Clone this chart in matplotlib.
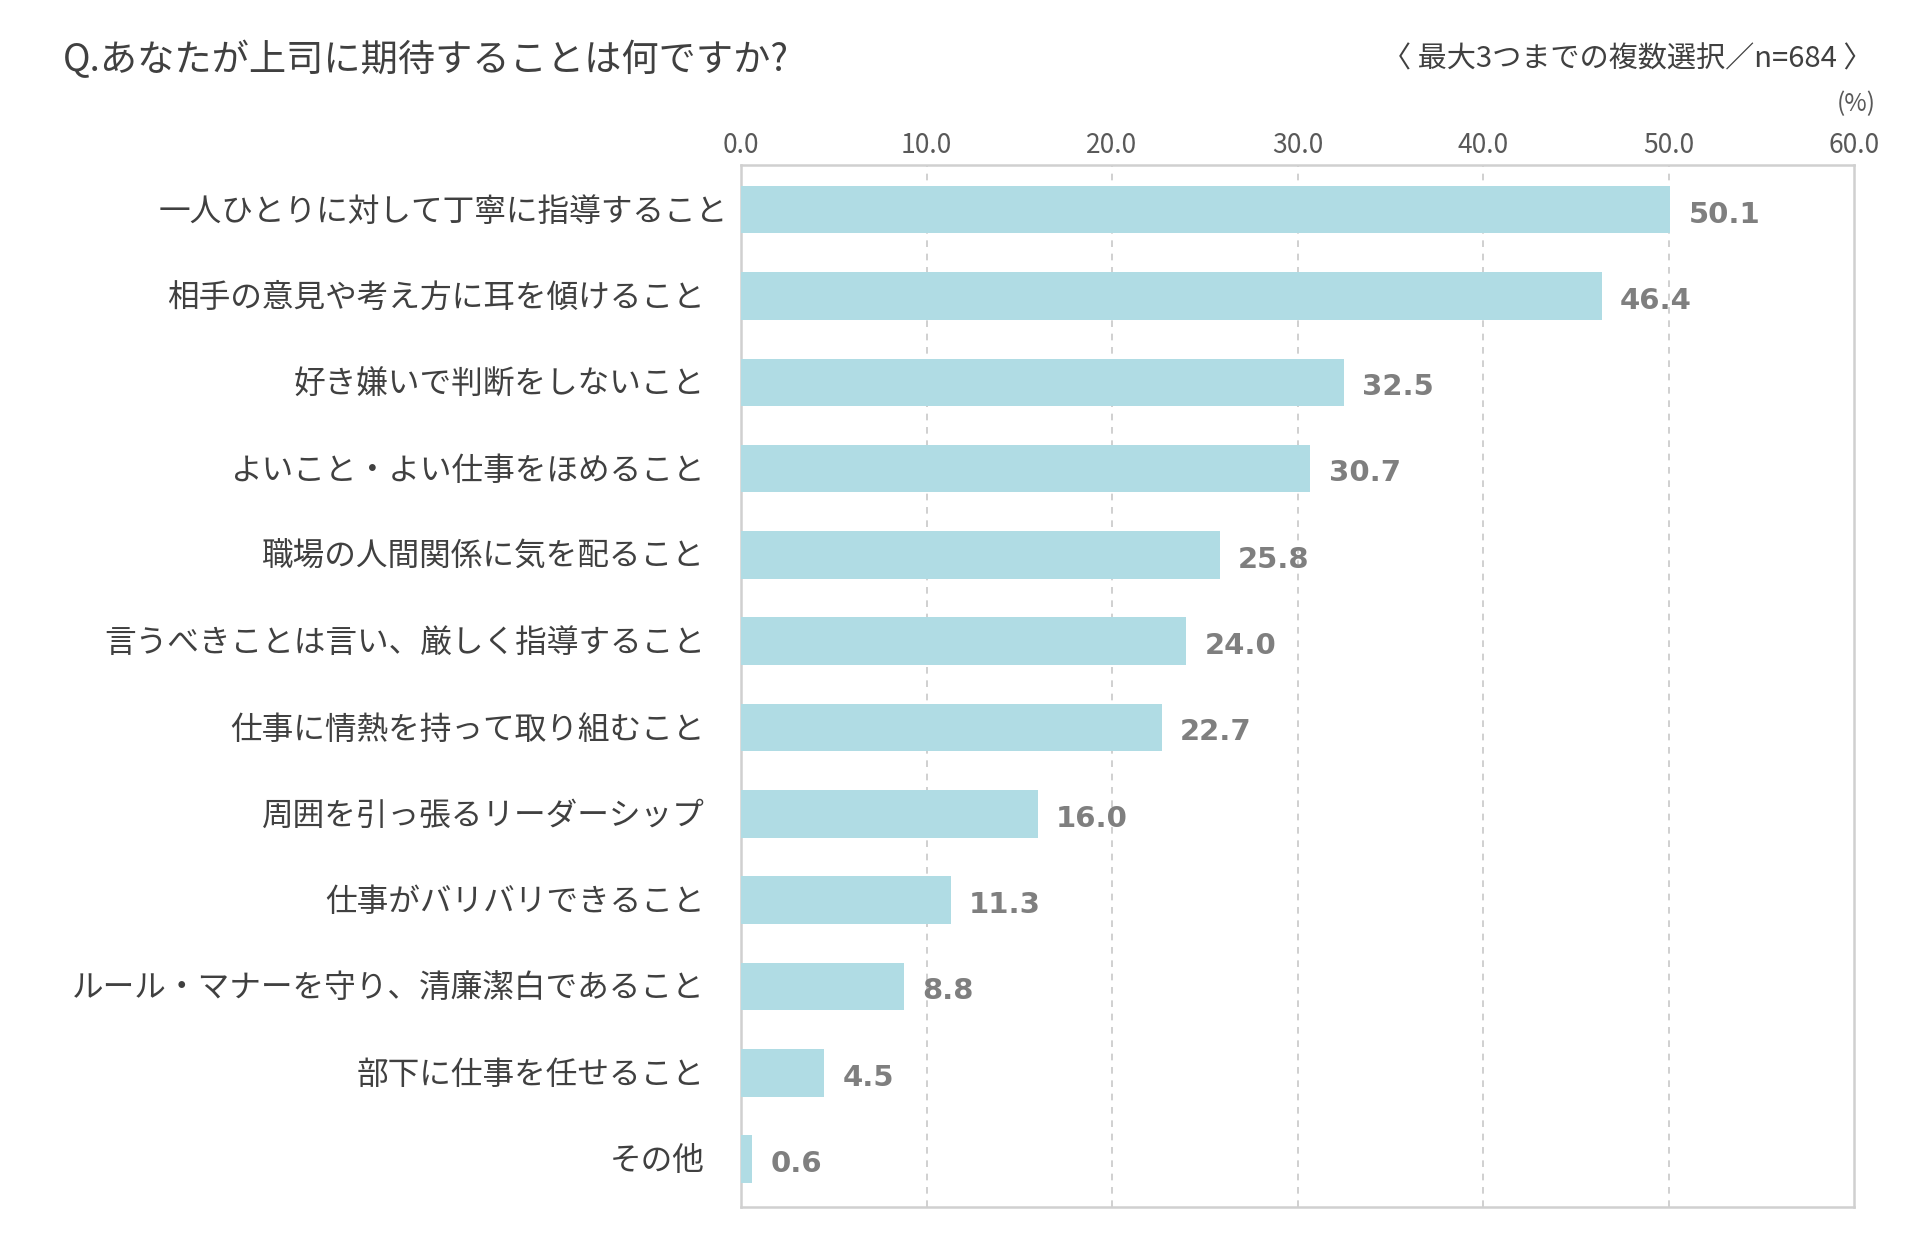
import matplotlib
matplotlib.use("Agg")
import matplotlib.pyplot as plt
import matplotlib.transforms as mtransforms

plt.rcParams['font.family'] = ['Noto Sans CJK JP', 'DejaVu Sans']

categories = [
    "一人ひとりに対して丁寧に指導すること",
    "相手の意見や考え方に耳を傾けること",
    "好き嫌いで判断をしないこと",
    "よいこと・よい仕事をほめること",
    "職場の人間関係に気を配ること",
    "言うべきことは言い、厳しく指導すること",
    "仕事に情熱を持って取り組むこと",
    "周囲を引っ張るリーダーシップ",
    "仕事がバリバリできること",
    "ルール・マナーを守り、清廉潔白であること",
    "部下に仕事を任せること",
    "その他",
]
values = [50.1, 46.4, 32.5, 30.7, 25.8, 24.0, 22.7, 16.0, 11.3, 8.8, 4.5, 0.6]
xticks = [0, 10, 20, 30, 40, 50, 60]
tick_labels = [f"{t:.1f}" for t in xticks]

title = "Q.あなたが上司に期待することは何ですか?"
subtitle = "〈 最大3つまでの複数選択／n=684 〉"
unit = "(%)"

W, H = 1911, 1260
fig = plt.figure(figsize=(W / 100, H / 100), dpi=100)
ax = fig.add_axes([741 / W, 1 - 1206.6 / H, (1854 - 741) / W, (1206.6 - 164.5) / H])

bar_color = "#B0DCE4"
ypos = list(range(len(categories)))
ax.barh(ypos, values, height=0.55, color=bar_color, zorder=3)

ax.set_xlim(0, 60)
ax.set_ylim(11.55, -0.523)

ax.xaxis.tick_top()
ax.set_xticks(xticks)
ax.set_xticklabels(tick_labels, fontsize=19, color="#595959")
ax.tick_params(axis='x', length=0, pad=4)
ax.set_yticks([])

for t in xticks[1:-1]:
    ax.axvline(t, color="#C8C8C8", linestyle=(0, (4, 4)), linewidth=1.2, zorder=1)

for s in ax.spines.values():
    s.set_color("#D0D0D0")
    s.set_linewidth(1.8)

for i, (cat, v) in enumerate(zip(categories, values)):
    off = -13 if i == 0 else -36
    trans = mtransforms.offset_copy(ax.get_yaxis_transform(), fig=fig, x=off, y=-2, units='dots')
    ax.text(0, i, cat, transform=trans, ha='right', va='center', fontsize=22.8, color="#404040")
    ax.annotate(f"{v:.1f}", xy=(v, i), xytext=(13, -3.5), textcoords='offset points',
                ha='left', va='center', fontsize=21, fontweight='bold', color="#7F7F7F",
                family=['DejaVu Sans'])

fig.text(63 / W, 1 - 61 / H, title, ha='left', va='center', fontsize=26.8, color="#404040")
fig.text(1872 / W, 1 - 59 / H, subtitle, ha='right', va='center', fontsize=21, color="#404040")
fig.text(1876 / W, 1 - 104 / H, unit, ha='right', va='center', fontsize=17.5, color="#595959")

fig.savefig("out.png", dpi=100, facecolor="white")
